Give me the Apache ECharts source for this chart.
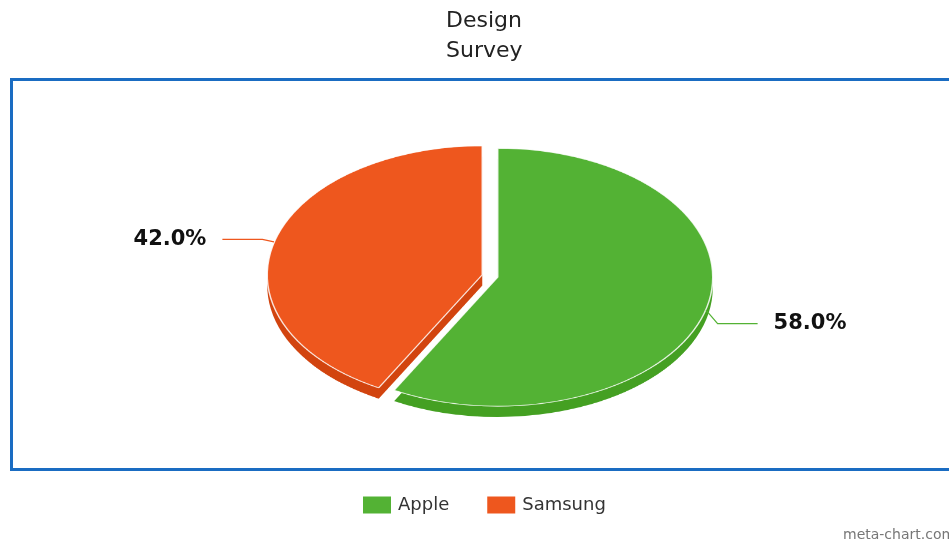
<!DOCTYPE html>
<html>
<head>
<meta charset="utf-8">
<script src="https://cdn.jsdelivr.net/npm/echarts@6/dist/echarts.min.js"></script>
<style>
  html, body { margin: 0; padding: 0; background: #fff; }
  #wrap { position: relative; width: 949px; height: 543px; overflow: hidden; }
  #pie, #main { position: absolute; left: 0; top: 0; width: 949px; height: 543px; }
  /* squash the pie into an ellipse */
  #pie { transform-origin: 490px 276px; transform: scaleY(0.6); }
</style>
</head>
<body>
<div id="wrap">
  <div id="pie"></div>
  <div id="main"></div>
</div>
<script>
// data
var categories = ['Apple', 'Samsung'];
var values = [58, 42];
var topColors = ['#53b234', '#ee571e'];
var sideColors = ['#44a022', '#d2440f'];

var cx = 490, cy = 276, r = 215, squash = 0.6;
var labelCy = 295, labelSquash = 0.71;

// 一 : 椭圆饼图 (顶面 + 侧面)
(function () {
    var myChart = echarts.init(document.getElementById('pie'));
    function makeData(colors, border) {
        return categories.map(function (name, i) {
            return {
                name: name,
                value: values[i],
                selected: true,
                itemStyle: {
                    color: colors[i],
                    borderColor: border ? 'rgba(255,255,255,0.85)' : colors[i],
                    borderWidth: border ? 1.5 : 0
                }
            };
        });
    }
    var option = {
        animation: false,
        series: [
            {
                type: 'pie',
                z: 1,
                center: [cx, cy + 18],
                radius: r,
                startAngle: 90,
                selectedMode: 'multiple',
                selectedOffset: 8,
                label: { show: false },
                labelLine: { show: false },
                emphasis: { disabled: true },
                data: makeData(sideColors, false)
            },
            {
                type: 'pie',
                z: 2,
                center: [cx, cy],
                radius: r,
                startAngle: 90,
                selectedMode: 'multiple',
                selectedOffset: 8,
                label: { show: false },
                labelLine: { show: false },
                emphasis: { disabled: true },
                data: makeData(topColors, true)
            }
        ]
    };
    myChart.setOption(option);
})();

// 二 : 标题 / 图例 / 边框 / 百分比标签
(function () {
    var myChart = echarts.init(document.getElementById('main'));
    var option = {
        animation: false,
        title: {
            text: 'Design\nSurvey',
            left: 441,
            top: 1,
            textStyle: {
                fontFamily: 'DejaVu Sans',
                fontWeight: 'normal',
                fontSize: 22,
                lineHeight: 30,
                color: '#222',
                align: 'center'
            }
        },
        legend: {
            left: 358,
            top: 491,
            itemWidth: 28,
            itemHeight: 17,
            itemGap: 38,
            icon: 'rect',
            textStyle: { fontFamily: 'DejaVu Sans', fontSize: 18, color: '#333', padding: [0, 0, 0, 2] },
            data: categories.map(function (name, i) {
                return { name: name, itemStyle: { color: topColors[i], opacity: 1 } };
            })
        },
        graphic: [
            {
                type: 'rect',
                shape: { x: 11.5, y: 79.5, width: 1000, height: 390 },
                style: { fill: 'none', stroke: '#1a6cc2', lineWidth: 3 },
                z: 0
            },
            {
                type: 'text',
                left: 843,
                top: 528,
                style: { text: 'meta-chart.com', font: '14px DejaVu Sans', fill: '#777' }
            }
        ],
        series: [
            {
                type: 'pie',
                center: [cx, cy],
                radius: r,
                startAngle: 90,
                selectedMode: 'multiple',
                selectedOffset: 8,
                silent: true,
                emphasis: { disabled: true },
                label: {
                    formatter: function (p) { return p.value.toFixed(1) + '%'; },
                    fontFamily: 'DejaVu Sans',
                    fontWeight: 'bold',
                    fontSize: 21,
                    color: '#111',
                    distanceToLabelLine: 16
                },
                labelLine: { length: 12, length2: 40, lineStyle: { width: 1.2 } },
                // 把圆形布局的标签压扁到椭圆上
                labelLayout: function (params) {
                    var res = {};
                    var rect = params.labelRect;
                    var mid = rect.y + rect.height / 2;
                    res.dy = labelCy + (mid - labelCy) * labelSquash - mid;
                    if (params.labelLinePoints) {
                        res.labelLinePoints = params.labelLinePoints.map(function (pt, k) {
                            if (k === 0) return [pt[0], cy + (pt[1] - cy) * squash];
                            return [pt[0], labelCy + (pt[1] - labelCy) * labelSquash];
                        });
                    }
                    return res;
                },
                data: categories.map(function (name, i) {
                    return {
                        name: name,
                        value: values[i],
                        selected: true,
                        itemStyle: { color: 'rgba(0,0,0,0)' },
                        labelLine: { lineStyle: { color: topColors[i] } }
                    };
                })
            }
        ]
    };
    myChart.setOption(option);
})();
</script>
</body>
</html>
